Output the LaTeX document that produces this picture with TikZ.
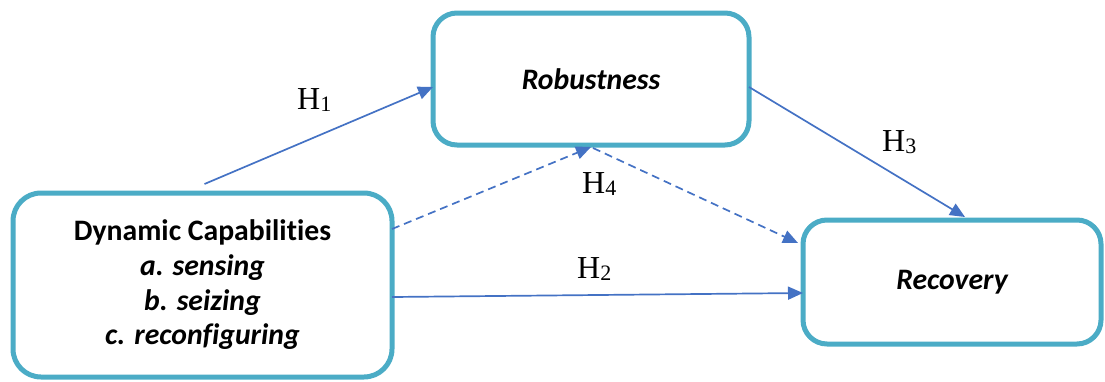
\documentclass[tikz,border=0pt]{standalone}
\usepackage{fontspec}
\setmainfont{Liberation Serif}
\newfontfamily\carlito[Ligatures={NoCommon}]{Carlito}
\usetikzlibrary{arrows.meta}
\definecolor{boxteal}{HTML}{4BACC6}
\definecolor{arrblue}{HTML}{4472C4}
\newcommand{\hyp}[1]{H\raisebox{-2pt}{\fontsize{22}{22}\selectfont #1}}
\tikzset{
  cbox/.style={draw=boxteal, line width=5pt, rounded corners=28pt, fill=white,
    inner sep=0pt, outer sep=0pt, align=center,
    font=\carlito\bfseries\fontsize{29.7}{34.7}\selectfont},
  conn/.style={draw=arrblue, line width=1.7pt, -{Triangle[length=15pt,width=13pt]}},
  dconn/.style={conn, dash pattern=on 8pt off 5pt},
  hlab/.style={anchor=base west, inner sep=0pt, font=\fontsize{32}{32}\selectfont}
}
\begin{document}
\begin{tikzpicture}[x=1pt,y=-1pt]
\useasboundingbox (0,0) rectangle (1105,381);
\node[cbox, minimum width=379pt, minimum height=184pt] (dc) at (202.5,285)
  {Dynamic Capabilities\\ \itshape a. sensing\\ \itshape b. seizing\\ \itshape c. reconfiguring};
\node[cbox, minimum width=316pt, minimum height=132pt, rounded corners=24pt] (rob) at (591,79)
  {\itshape Robustness};
\node[cbox, minimum width=298pt, minimum height=124pt, rounded corners=24pt] (rec) at (952,282)
  {\itshape Recovery};
\draw[conn] ([xshift=2pt,yshift=9pt]dc.north) -- ([yshift=-8pt]rob.west);
\draw[conn] ([yshift=-8pt]rob.east) -- ([xshift=13pt,yshift=3pt]rec.north);
\draw[conn] ([yshift=-12pt]dc.east) -- ([yshift=-11pt]rec.west);
\draw[dconn] ([yshift=56pt]dc.east) -- ([yshift=-2pt]rob.south);
\draw[dconn] ([xshift=2pt,yshift=-3pt]rob.south) -- ([xshift=-5pt,yshift=39pt]rec.west);
\node[hlab] (h1) at (297,109) {\hyp{1}};
\node[hlab] (h3) at (882,151) {\hyp{3}};
\node[hlab] (h2) at (577,278) {\hyp{2}};
\node[hlab] (h4) at (582,193) {\hyp{4}};
\end{tikzpicture}
\end{document}
